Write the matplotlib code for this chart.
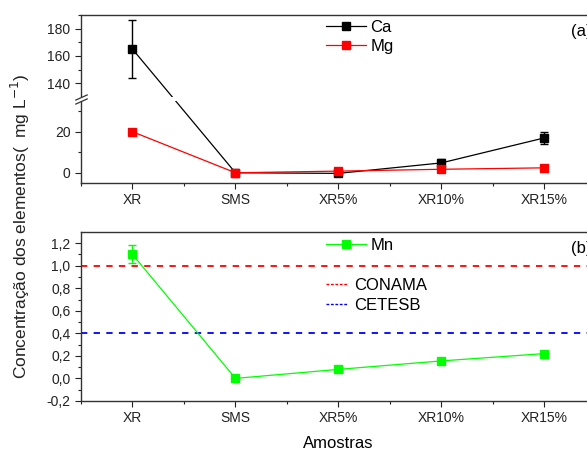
"""
Ca, Mg (broken axis) and Mn concentrations per sample.
"""

import numpy as np
import matplotlib
matplotlib.use("Agg")
import matplotlib.pyplot as plt
from matplotlib.lines import Line2D
from matplotlib.patches import Rectangle

plt.rcParams["font.family"] = ["Liberation Sans", "DejaVu Sans"]

samples = ["XR", "SMS", "XR5%", "XR10%", "XR15%"]

ca = [165, 0.0, -0.3, 4.8, 17.0]
ca_err = [21, 0.5, 0.5, 2.0, 3.0]

mg = [20.0, 0.0, 0.8, 1.7, 2.4]
mg_err = [0.5, 0.3, 0.3, 1.0, 0.3]

mn = [1.10, 0.0, 0.08, 0.155, 0.22]
mn_err = [0.08, 0.01, 0.01, 0.02, 0.01]

conama = 1.0
cetesb = 0.4

top_major = [0, 20, 140, 160, 180]
top_minor = [10, 30, 150, 170, 190]
bot_major = [-0.2, 0.0, 0.2, 0.4, 0.6, 0.8, 1.0, 1.2]
bot_labels = ["-0,2", "0,0", "0,2", "0,4", "0,6", "0,8", "1,0", "1,2"]


# piecewise scale for the broken axis: -5..35 below, 130..190 above
def fwd(y):
    y = np.asarray(y, dtype=float)
    return np.where(y <= 35, (y + 5) * 2.05,
                    np.where(y >= 130, 86 + (y - 130) * 82 / 60,
                             82 + (y - 35) * 4 / 95))


def inv(p):
    p = np.asarray(p, dtype=float)
    return np.where(p <= 82, p / 2.05 - 5,
                    np.where(p >= 86, 130 + (p - 86) * 60 / 82,
                             35 + (p - 82) * 95 / 4))


def style_axis(ax):
    ax.spines["right"].set_visible(False)
    ax.tick_params(which="both", direction="out", top=False, right=False,
                   labelsize=10, colors="#222222")
    ax.tick_params(which="major", length=4, width=0.8)
    ax.tick_params(which="minor", length=2.5, width=0.8)
    ax.set_xlim(-0.5, 4.5)
    ax.set_xticks(range(len(samples)))
    ax.set_xticks(np.arange(-0.5, 4.6, 1.0), minor=True)
    ax.set_xticklabels(samples)
    for s in ax.spines.values():
        s.set_linewidth(1.0)
        s.set_color("#333333")


def series_handle(color):
    return Line2D([], [], color=color, marker="s", markersize=6, linewidth=0.9)


fig = plt.figure(figsize=(5.87, 4.53), dpi=100)

x = np.arange(len(samples))

# (a) Ca and Mg
ax1 = fig.add_axes([0.138, 0.596, 0.877, 0.371])
ax1.set_yscale("function", functions=(fwd, inv))
ax1.set_ylim(-5, 190)
ax1.errorbar(x, ca, yerr=ca_err, color="black", marker="s", markersize=6,
             linewidth=0.9, elinewidth=1.0, capsize=3, zorder=3)
ax1.errorbar(x, mg, yerr=mg_err, color="#ff0000", marker="s", markersize=6,
             linewidth=0.9, elinewidth=1.0, capsize=0, zorder=3)
ax1.set_yticks(top_major)
ax1.set_yticks(top_minor, minor=True)
ax1.set_yticklabels([str(v) for v in top_major])
style_axis(ax1)

# blank band + slashes for the axis break
ax1.add_patch(Rectangle((-0.03, 35), 1.1, 95, transform=ax1.get_yaxis_transform(),
                        facecolor="white", edgecolor="none", clip_on=False, zorder=5))
ax1.plot([0, 0], [35, 130], transform=ax1.get_yaxis_transform(),
         marker=[(-1, -0.45), (1, 0.45)], markersize=9, markeredgewidth=0.9,
         color="#333333", linestyle="none", clip_on=False, zorder=6)

ax1.legend([series_handle("black"), series_handle("#ff0000")], ["Ca", "Mg"],
           loc="upper left", bbox_to_anchor=(0.475, 0.97), frameon=False,
           fontsize=12, handlelength=2.4, handletextpad=0.3, labelspacing=0.25,
           borderpad=0, borderaxespad=0)
ax1.text(0.951, 0.90, "(a)", transform=ax1.transAxes, fontsize=12, va="center")

# (b) Mn with limits
ax2 = fig.add_axes([0.138, 0.115, 0.877, 0.373])
ax2.errorbar(x, mn, yerr=mn_err, color="#00ff00", marker="s", markersize=6,
             linewidth=0.9, elinewidth=1.0, capsize=3, zorder=3)
ax2.axhline(conama, color="#ff0000", linewidth=1.3, dashes=(3.5, 3.5), zorder=2)
ax2.axhline(cetesb, color="#0000ff", linewidth=1.3, dashes=(3.5, 3.5), zorder=2)
ax2.set_ylim(-0.2, 1.3)
ax2.set_yticks(bot_major)
ax2.set_yticks(np.arange(-0.1, 1.3, 0.2), minor=True)
ax2.set_yticklabels(bot_labels)
style_axis(ax2)
ax2.set_xlabel("Amostras", fontsize=12, labelpad=8)

leg_mn = ax2.legend([series_handle("#00ff00")], ["Mn"], loc="upper left",
                    bbox_to_anchor=(0.475, 0.965), frameon=False, fontsize=12,
                    handlelength=2.4, handletextpad=0.3, borderpad=0,
                    borderaxespad=0)
ax2.add_artist(leg_mn)

lim_handles = [Line2D([], [], color="#ff0000", linewidth=1.0, dashes=(2, 1.2)),
               Line2D([], [], color="#0000ff", linewidth=1.0, dashes=(2, 1.2))]
ax2.legend(lim_handles, ["CONAMA", "CETESB"], loc="upper left",
           bbox_to_anchor=(0.475, 0.73), frameon=False, fontsize=12,
           handlelength=1.35, handletextpad=0.35, labelspacing=0.3,
           borderpad=0, borderaxespad=0)
ax2.text(0.951, 0.90, "(b)", transform=ax2.transAxes, fontsize=12, va="center")

fig.text(0.035, 0.50, "Concentração dos elementos(  mg L$^{-1}$)", rotation=90,
         fontsize=12.5, ha="center", va="center", color="#222222")

fig.savefig("out.png", dpi=100)
